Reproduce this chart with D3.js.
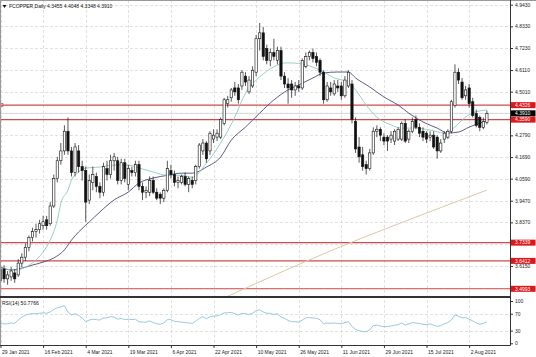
<!DOCTYPE html>
<html><head><meta charset="utf-8">
<script src="https://cdn.jsdelivr.net/npm/d3@7"></script>
<style>body{margin:0;background:#fff}svg{display:block}text{font-family:"Liberation Sans",Arial,sans-serif}</style>
</head><body>
<script>
// ---- data ----
const opens =[3.54,3.60,3.55,3.56,3.58,3.57,3.63,3.66,3.71,3.76,3.79,3.80,3.82,3.85,3.83,3.92,4.06,4.15,4.20,4.30,4.20,4.09,4.20,4.12,4.10,3.95,4.04,4.07,4.02,3.99,4.11,4.08,4.15,4.15,4.05,4.14,4.03,4.10,4.09,4.13,4.02,3.99,3.99,4.05,3.99,3.98,3.96,4.00,4.10,4.08,4.04,4.04,4.07,4.03,4.05,4.05,4.12,4.20,4.24,4.20,4.26,4.27,4.27,4.34,4.44,4.47,4.52,4.52,4.53,4.58,4.50,4.53,4.60,4.77,4.80,4.72,4.66,4.70,4.66,4.71,4.58,4.54,4.54,4.51,4.53,4.52,4.63,4.68,4.70,4.68,4.66,4.60,4.46,4.52,4.49,4.53,4.53,4.48,4.53,4.54,4.35,4.22,4.18,4.13,4.11,4.19,4.30,4.31,4.27,4.27,4.26,4.25,4.26,4.26,4.34,4.26,4.30,4.36,4.32,4.30,4.29,4.27,4.28,4.27,4.20,4.26,4.27,4.30,4.43,4.60,4.55,4.48,4.52,4.45,4.39,4.37,4.32,4.3455];
const highs =[3.62,3.62,3.59,3.61,3.60,3.65,3.68,3.73,3.77,3.81,3.83,3.85,3.87,3.87,3.94,4.08,4.17,4.24,4.33,4.37,4.22,4.24,4.23,4.15,4.12,4.08,4.12,4.09,4.04,4.14,4.15,4.18,4.19,4.17,4.16,4.16,4.13,4.12,4.15,4.15,4.04,4.02,4.07,4.07,4.01,3.99,4.01,4.15,4.13,4.10,4.07,4.08,4.09,4.07,4.07,4.13,4.24,4.26,4.25,4.30,4.31,4.31,4.37,4.47,4.48,4.52,4.55,4.54,4.61,4.60,4.58,4.63,4.79,4.85,4.83,4.74,4.72,4.77,4.73,4.73,4.60,4.57,4.56,4.55,4.56,4.67,4.70,4.71,4.72,4.70,4.67,4.61,4.55,4.55,4.56,4.56,4.55,4.58,4.61,4.56,4.37,4.27,4.22,4.15,4.21,4.32,4.33,4.32,4.29,4.28,4.30,4.31,4.32,4.35,4.36,4.31,4.37,4.38,4.34,4.32,4.30,4.30,4.30,4.28,4.26,4.30,4.31,4.46,4.64,4.62,4.57,4.53,4.54,4.47,4.41,4.38,4.37,4.4048];
const lows  =[3.50,3.53,3.52,3.54,3.53,3.56,3.61,3.64,3.69,3.74,3.76,3.78,3.80,3.80,3.82,3.91,4.04,4.13,4.18,4.18,4.07,4.07,4.09,4.05,3.84,3.93,4.00,3.99,3.96,3.97,4.05,4.06,4.10,4.03,4.03,4.04,4.00,4.07,4.07,4.00,3.95,3.96,3.97,3.98,3.95,3.93,3.94,3.99,4.06,4.02,4.01,4.03,4.02,3.99,4.01,4.03,4.11,4.18,4.14,4.18,4.24,4.25,4.26,4.33,4.42,4.45,4.48,4.44,4.51,4.53,4.49,4.52,4.58,4.71,4.66,4.64,4.63,4.66,4.64,4.56,4.52,4.44,4.47,4.48,4.50,4.51,4.62,4.66,4.65,4.63,4.58,4.44,4.45,4.48,4.48,4.50,4.46,4.47,4.52,4.34,4.19,4.14,4.10,4.08,4.10,4.18,4.27,4.25,4.23,4.20,4.24,4.23,4.25,4.25,4.24,4.24,4.29,4.31,4.27,4.25,4.24,4.25,4.21,4.16,4.19,4.24,4.26,4.29,4.42,4.54,4.46,4.46,4.42,4.37,4.32,4.30,4.31,4.3348];
const closes=[3.60,3.55,3.57,3.59,3.55,3.63,3.66,3.71,3.76,3.79,3.80,3.83,3.84,3.82,3.92,4.06,4.15,4.20,4.30,4.20,4.09,4.22,4.12,4.10,3.94,4.05,4.08,4.02,3.99,4.12,4.08,4.15,4.17,4.05,4.14,4.06,4.11,4.09,4.13,4.02,3.99,4.00,4.05,3.99,3.96,3.96,4.00,4.11,4.08,4.04,4.05,4.07,4.03,4.06,4.03,4.12,4.23,4.24,4.16,4.29,4.28,4.29,4.36,4.46,4.46,4.51,4.50,4.46,4.60,4.55,4.56,4.61,4.77,4.80,4.68,4.66,4.70,4.68,4.71,4.58,4.54,4.52,4.51,4.53,4.52,4.66,4.68,4.70,4.67,4.65,4.60,4.46,4.53,4.50,4.54,4.52,4.48,4.56,4.60,4.36,4.21,4.17,4.12,4.11,4.19,4.30,4.31,4.28,4.25,4.25,4.28,4.30,4.31,4.34,4.25,4.30,4.35,4.32,4.29,4.27,4.26,4.28,4.22,4.20,4.24,4.29,4.30,4.45,4.60,4.56,4.47,4.51,4.44,4.38,4.33,4.32,4.35,4.3910];
const rsiValues=[47,46,46,48,47,55,62,66,69,70,70,71,72,71,74,80,84,86,89,74,67,70,66,60,51,55,57,56,55,60,60,63,62,57,59,56,57,56,57,51,50,50,53,49,46,45,48,56,56,52,51,50,49,48,47,52,59,63,58,63,64,65,68,72,72,73,70,67,71,70,68,71,77,79,74,71,71,68,70,62,59,54,51,51,50,55,60,61,60,59,56,46,48,47,48,47,46,49,51,40,33,30,28,27,32,42,43,41,39,40,41,43,44,48,43,46,49,48,47,45,44,46,43,40,42,46,49,55,67,64,60,61,57,53,48,45,47,50.7766];
const maFastIdx=[0,4,9,12,14,16,17,19,20,22,24,28,32,36,39,43,47,51,54,58,62,66,69,73,77,80,82,86,90,94,98,100,103,106,110,113,117,121,125,128,130,133,137];
const maFastVal=[3.605,3.595,3.631,3.686,3.747,3.849,3.935,4.001,4.052,4.093,4.113,4.118,4.128,4.128,4.113,4.093,4.076,4.076,4.066,4.138,4.240,4.372,4.494,4.576,4.627,4.647,4.647,4.637,4.611,4.571,4.550,4.510,4.433,4.372,4.332,4.316,4.316,4.306,4.291,4.321,4.357,4.393,4.408];
const maSlowIdx=[0,3,5,9,12,15,18,20,22,25,28,32,36,39,43,47,51,54,58,62,65,69,73,77,81,84,88,91,95,98,100,104,108,112,115,119,123,126,129,132,136,137];
const maSlowVal=[3.610,3.595,3.600,3.620,3.635,3.656,3.697,3.747,3.788,3.839,3.890,3.951,3.991,4.037,4.062,4.076,4.087,4.087,4.118,4.169,4.255,4.321,4.392,4.459,4.510,4.535,4.571,4.596,4.601,4.601,4.571,4.525,4.474,4.433,4.392,4.347,4.316,4.291,4.296,4.321,4.347,4.352];
const ma200Idx=[62,94,124,137];
const ma200Val=[3.445,3.700,3.912,4.001];
const gridPrices=[4.943,4.833,4.723,4.611,4.501,4.391,4.279,4.169,4.059,3.947,3.837,3.727,3.615,3.505];
const priceTicks=[4.943,4.833,4.723,4.611,4.501,4.279,4.169,4.059,3.947,3.837,3.615];
const levels=[4.4326,4.3590,3.7339,3.6412,3.4993];
const lastPrice=4.3910;
const dateTickIdx=[0,12,24,36,48,60,72,84,96,108,120,132];
const dateTickLabels=["29 Jan 2021","16 Feb 2021","4 Mar 2021","19 Mar 2021","6 Apr 2021","22 Apr 2021","10 May 2021","26 May 2021","11 Jun 2021","29 Jun 2021","15 Jul 2021","2 Aug 2021"];
const rsiTicks=[100,70,30,0];
const title="FCOPPER,Daily 4.3455 4.4048 4.3348 4.3910";
const rsiTitle="RSI(14) 50.7766";

// ---- layout ----
const W=536,H=357, AX=510.5, MAIN_B=296, RSI_T=298, RSI_B=345.5;
const svg=d3.select("body").append("svg").attr("width",W).attr("height",H);
svg.append("rect").attr("width",W).attr("height",H).attr("fill","#fff");

const bars=opens.map((o,i)=>({i,o,h:highs[i],l:lows[i],c:closes[i]}));
const x=d3.scaleLinear().domain([0,137]).range([0.5,486.9]);
const y=d3.scaleLinear().domain([4.943-(MAIN_B-4.7)/196.8, 4.943+4.7/196.8]).range([MAIN_B,0]);
const yr=d3.scaleLinear().domain([0,100]).range([343.3,301]);
const f4=d3.format(".4f");

const defs=svg.append("defs");
defs.append("clipPath").attr("id","cm").append("rect").attr("x",0).attr("y",0).attr("width",AX).attr("height",MAIN_B);
defs.append("clipPath").attr("id","cr").append("rect").attr("x",0).attr("y",RSI_T).attr("width",AX).attr("height",RSI_B-RSI_T);

const grid=svg.append("g").attr("stroke","#d9d9d9").attr("stroke-width",0.8).attr("stroke-dasharray","3,2");
grid.selectAll(".hg").data(gridPrices).join("line").attr("x1",0).attr("x2",AX).attr("y1",d=>Math.round(y(d))+0.5).attr("y2",d=>Math.round(y(d))+0.5);
grid.selectAll(".vg").data(dateTickIdx).join("line").attr("x1",d=>Math.round(x(d))+0.5).attr("x2",d=>Math.round(x(d))+0.5).attr("y1",0).attr("y2",RSI_B);
grid.selectAll(".rg").data([70,30]).join("line").attr("x1",0).attr("x2",AX).attr("y1",d=>Math.round(yr(d))+0.5).attr("y2",d=>Math.round(yr(d))+0.5);

const main=svg.append("g").attr("clip-path","url(#cm)");
main.append("line").attr("x1",0).attr("x2",AX).attr("y1",y(lastPrice)).attr("y2",y(lastPrice)).attr("stroke","#cfcfcf").attr("stroke-width",0.8);
main.selectAll(".lv").data(levels).join("line").attr("x1",0).attr("x2",AX).attr("y1",d=>y(d)).attr("y2",d=>y(d)).attr("stroke","#cf4a4a").attr("stroke-width",1.1);
main.append("rect").attr("x",0.5).attr("y",y(levels[0])-1.5).attr("width",2.5).attr("height",3).attr("fill","none").attr("stroke","#cf4a4a").attr("stroke-width",0.7);

const ln=d3.line().x(d=>x(d[0])).y(d=>y(d[1])).curve(d3.curveMonotoneX);
main.append("path").attr("d",ln(ma200Idx.map((d,k)=>[d,ma200Val[k]]))).attr("fill","none").attr("stroke","#dcc8a6").attr("stroke-width",1);
main.append("path").attr("d",ln(maSlowIdx.map((d,k)=>[d,maSlowVal[k]]))).attr("fill","none").attr("stroke","#4a4a78").attr("stroke-width",0.9);
main.append("path").attr("d",ln(maFastIdx.map((d,k)=>[d,maFastVal[k]]))).attr("fill","none").attr("stroke","#8fc7c2").attr("stroke-width",0.9);

const bw=2.3;
const cg=main.append("g");
cg.selectAll(".wk").data(bars).join("line").attr("x1",d=>x(d.i)).attr("x2",d=>x(d.i)).attr("y1",d=>y(d.h)).attr("y2",d=>y(d.l)).attr("stroke","#111").attr("stroke-width",0.7);
cg.selectAll(".bd").data(bars).join("rect").attr("x",d=>x(d.i)-bw/2).attr("width",bw)
  .attr("y",d=>y(Math.max(d.o,d.c))).attr("height",d=>Math.max(0.6,Math.abs(y(d.o)-y(d.c))))
  .attr("fill",d=>d.c>=d.o?"#fff":"#111").attr("stroke","#111").attr("stroke-width",0.6);

const rl=d3.line().x((d,i)=>x(i)).y(d=>yr(d));
svg.append("g").attr("clip-path","url(#cr)").append("path").attr("d",rl(rsiValues)).attr("fill","none").attr("stroke","#8cc3dc").attr("stroke-width",0.9);

const fr=svg.append("g").attr("stroke","#333").attr("fill","none");
fr.append("line").attr("x1",0).attr("x2",W).attr("y1",0.5).attr("y2",0.5).attr("stroke","#999");
fr.append("line").attr("x1",0.5).attr("x2",0.5).attr("y1",0).attr("y2",RSI_B).attr("stroke","#999");
fr.append("line").attr("x1",AX).attr("x2",AX).attr("y1",0).attr("y2",RSI_B).attr("stroke-width",1);
fr.append("line").attr("x1",0).attr("x2",AX).attr("y1",297).attr("y2",297).attr("stroke-width",2);
fr.append("line").attr("x1",0).attr("x2",AX).attr("y1",RSI_B).attr("y2",RSI_B).attr("stroke-width",1);

function styleAxis(g){
  g.select(".domain").remove();
  g.selectAll("line").attr("stroke","#333");
  g.selectAll("text").attr("font-size",5).attr("fill","#222").attr("font-family","Liberation Sans, Arial, sans-serif");
}
const pa=svg.append("g").attr("transform",`translate(${AX},0)`)
  .call(d3.axisRight(y).tickValues(priceTicks).tickFormat(f4).tickSize(2.5).tickPadding(2));
styleAxis(pa);
const ra=svg.append("g").attr("transform",`translate(${AX},0)`)
  .call(d3.axisRight(yr).tickValues(rsiTicks).tickFormat(d3.format("d")).tickSize(2.5).tickPadding(2));
styleAxis(ra);
const da=svg.append("g").attr("transform",`translate(0,${RSI_B})`)
  .call(d3.axisBottom(x).tickValues(dateTickIdx).tickFormat((d,k)=>dateTickLabels[k]).tickSize(2.5).tickPadding(2));
styleAxis(da);
da.selectAll("text").attr("text-anchor","start").attr("dx",1);

const boxes=levels.map(v=>({v,fill:"#e0161b"})).concat([{v:lastPrice,fill:"#000"}]);
const bx=svg.append("g");
bx.selectAll("rect").data(boxes).join("rect").attr("x",AX+0.5).attr("y",d=>y(d.v)-3).attr("width",24.5).attr("height",6).attr("fill",d=>d.fill);
bx.selectAll("text").data(boxes).join("text").attr("x",AX+4.5).attr("y",d=>y(d.v)+1.8).attr("font-size",5).attr("fill","#fff").text(d=>f4(d.v));

svg.append("path").attr("d","M2.5,5 L6.5,5 L4.5,8 Z").attr("fill","#111");
svg.append("text").attr("x",9).attr("y",8).attr("font-size",5).attr("fill","#111").text(title);
svg.append("text").attr("x",2).attr("y",305).attr("font-size",5).attr("fill","#111").text(rsiTitle);
</script>
</body></html>
